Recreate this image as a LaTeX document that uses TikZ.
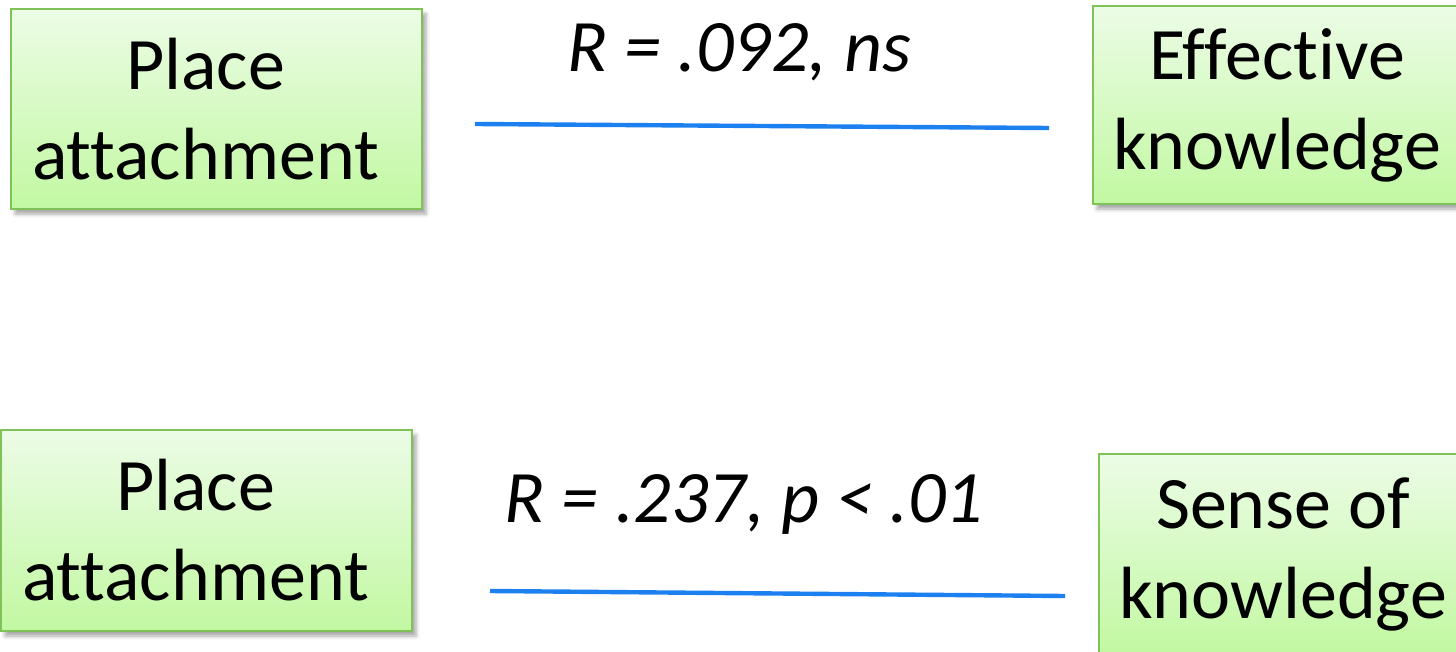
\documentclass[tikz,border=0pt]{standalone}
\usepackage{fontspec}
\setmainfont[Ligatures=NoCommon]{Carlito}
\usetikzlibrary{shadows.blur}
\definecolor{boxline}{RGB}{126,194,88}
\definecolor{boxtop}{RGB}{236,252,230}
\definecolor{boxbot}{RGB}{194,248,162}
\definecolor{corrline}{RGB}{28,128,240}
\tikzset{
  varbox/.style    = {draw=boxline,line width=1pt,top color=boxtop,bottom color=boxbot,
                      align=center,inner sep=0pt,font=\fontsize{37}{45}\selectfont,
                      blur shadow={shadow xshift=2pt,shadow yshift=-2.5pt,shadow opacity=35}},
  corr/.style      = {corrline,line width=2.2pt},
  corrlabel/.style = {anchor=base,font=\fontsize{37}{45}\selectfont\itshape}
}
\newcommand{\padr}{\hspace*{11pt}}

\begin{document}
\begin{tikzpicture}[x=0.5pt,y=-0.5pt]
  \useasboundingbox (0,0) rectangle (1456,652);
  \clip (0,0) rectangle (1456,652);
  % top pair
  \node[varbox,minimum width=205.5pt,minimum height=100pt] (pa1) at (216.5,109) {Place\padr\\attachment\padr};
  \node[varbox,minimum width=184pt,minimum height=99pt]    (ek)  at (1277,105)  {Effective\\knowledge};
  \coordinate (c1s) at (475,124);
  \coordinate (c1e) at (1049,128);
  \draw[corr] (c1s) -- (c1e);
  \node[corrlabel] (r1) at (739,72) {R = .092, ns};
  % bottom pair
  \node[varbox,minimum width=205.5pt,minimum height=100.5pt] (pa2) at (206.5,530.5) {Place\padr\\attachment\padr};
  \node[varbox,minimum width=184pt,minimum height=100pt]     (sk)  at (1283,554)   {Sense of\\knowledge};
  \coordinate (c2s) at (490,591);
  \coordinate (c2e) at (1065,596);
  \draw[corr] (c2s) -- (c2e);
  \node[corrlabel] (r2) at (744,522) {R = .237, p < .01};
\end{tikzpicture}
\end{document}
